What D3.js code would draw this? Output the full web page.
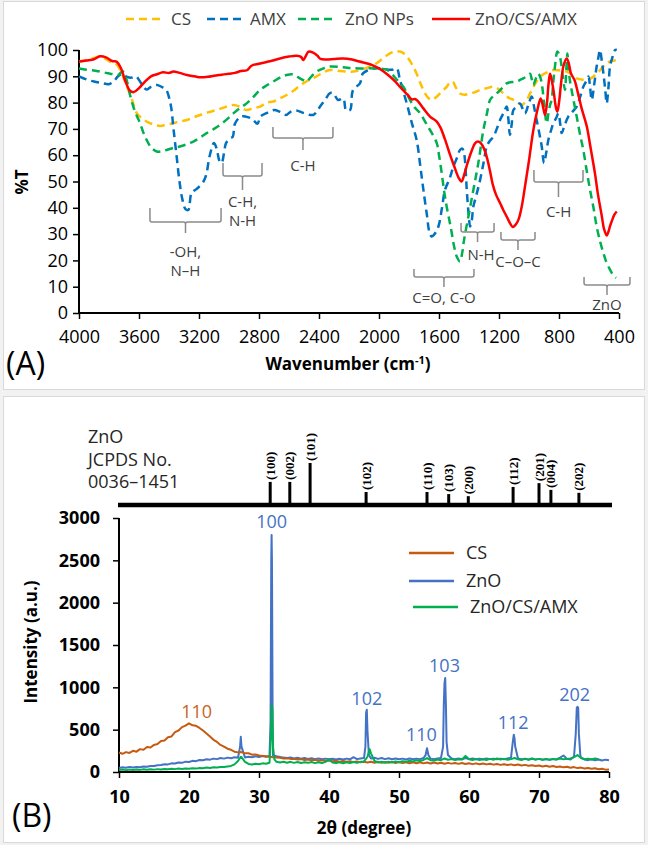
<!DOCTYPE html>
<html><head><meta charset="utf-8">
<script src="https://cdn.jsdelivr.net/npm/d3@7"></script>
<style>body{margin:0;background:#f2f2f2}svg{display:block}</style>
</head><body><svg id="c" width="648" height="845"></svg>
<script>
// ---------------- Panel A: FTIR ----------------
const ftirTicksX = [4000,3600,3200,2800,2400,2000,1600,1200,800,400];
const ftirTicksY = [0,10,20,30,40,50,60,70,80,90,100];
const ftirSeriesNames = ["CS","AMX","ZnO NPs","ZnO/CS/AMX"];
const ftirCS = [[4000,95.6],[3950,96.2],[3900,97],[3860,97.5],[3820,96.5],[3790,95.5],[3760,95],[3738,93.7],[3700,89],[3671,84.8],[3640,80],[3615,76],[3580,74],[3549,72.8],[3500,71.6],[3460,71.1],[3420,71.5],[3371,72.2],[3330,72.8],[3282,73.4],[3240,74.3],[3193,75.3],[3140,76.3],[3082,77.2],[3030,78.2],[2971,79.1],[2930,78.5],[2900,77.5],[2882,77.2],[2840,77.8],[2793,78.5],[2747,80],[2705,80.4],[2660,81.6],[2616,82.9],[2570,84.5],[2527,86.5],[2470,88.5],[2416,90],[2370,91.5],[2327,92.4],[2260,92],[2200,91.8],[2173,91.8],[2127,92.4],[2070,93.5],[2015,95],[1970,97],[1927,98.7],[1890,99.5],[1860,99.4],[1830,98.5],[1804,96.8],[1775,94],[1749,91],[1725,87.5],[1704,84.8],[1675,82],[1649,81],[1620,82],[1593,83.5],[1570,84.8],[1549,86],[1530,87.5],[1509,88],[1490,86],[1460,83.5],[1430,83],[1393,83.5],[1360,84],[1326,84.8],[1280,85.5],[1237,86],[1200,85],[1171,83.5],[1140,82],[1104,81],[1075,80],[1049,79.1],[1020,80.5],[993,83.5],[960,87],[926,89.9],[880,91.5],[838,92.4],[790,92.2],[749,91.8],[710,90.5],[682,89.2],[650,88.8],[615,88.6],[580,89.5],[549,91],[515,93],[482,95],[450,95.8],[415,96.2]];
const ftirAMX = [[4000,90],[3950,88.8],[3900,88],[3850,87.5],[3800,87],[3770,88],[3740,90],[3710,91],[3680,89.8],[3650,89.5],[3620,90],[3600,88.6],[3570,86],[3550,85],[3520,86],[3480,86.7],[3450,86],[3420,85],[3400,82],[3385,78],[3370,70],[3350,60],[3330,50],[3310,43],[3290,39.5],[3271,39.2],[3250,45.6],[3220,47],[3200,48],[3170,50],[3150,53],[3130,59.5],[3100,64.6],[3080,62],[3065,58],[3050,57],[3030,62],[3020,64.6],[2990,66.5],[2975,67],[2960,72],[2920,74.7],[2870,74.4],[2840,73.4],[2810,72],[2790,74.7],[2750,76],[2700,77.2],[2660,76.5],[2620,75.3],[2590,76.5],[2553,77],[2500,76],[2440,75.3],[2410,77],[2393,78.5],[2360,81],[2327,83.6],[2304,83.5],[2273,81],[2238,81.6],[2220,77.2],[2193,77.2],[2173,84.8],[2127,87.3],[2107,91.1],[2037,93],[2000,93],[1913,92.5],[1882,93],[1860,88.6],[1815,79.7],[1780,72],[1749,65.8],[1725,56],[1704,46.8],[1680,37],[1665,31],[1649,29.1],[1630,30],[1604,32.9],[1580,40],[1560,46.8],[1530,51],[1504,55.7],[1480,59],[1460,62],[1445,62.5],[1433,60.8],[1420,52],[1415,46.8],[1400,36],[1393,32.9],[1382,35],[1371,40.5],[1350,45],[1326,50.6],[1300,58],[1282,63.3],[1260,65.5],[1237,67],[1215,70],[1193,73.4],[1170,76],[1149,78.5],[1138,74],[1127,67.7],[1115,72],[1104,77.2],[1080,78.5],[1060,79.7],[1045,78],[1027,75.9],[1005,79],[982,82.3],[965,78],[949,73.4],[930,68],[915,63.3],[900,57],[885,61],[871,65.8],[850,70],[838,72.2],[820,74],[804,75.9],[792,72],[782,68.4],[765,71],[738,74.7],[710,76.5],[682,78.5],[660,82],[638,86],[620,88],[604,89.9],[593,86],[582,81],[565,87],[549,93.7],[538,97],[527,100],[515,96],[504,91.1],[492,85],[482,79.7],[470,86],[460,93.7],[445,97],[426,100],[415,100]];
const ftirZnO = [[4000,93],[3950,92.5],[3900,92.2],[3860,91.8],[3820,91.3],[3793,91],[3760,90.6],[3738,90.5],[3720,91.5],[3705,91.8],[3690,90],[3682,88.6],[3660,83],[3638,78.5],[3615,75],[3593,72.2],[3570,68.5],[3549,65.8],[3520,63],[3482,61.4],[3450,61.5],[3415,62],[3370,62.8],[3327,63.3],[3280,64.2],[3238,65.2],[3190,66.8],[3149,68.4],[3100,70],[3060,71.5],[3010,73.8],[2971,75.9],[2930,77.8],[2882,79.7],[2840,82],[2793,84.8],[2750,86.5],[2705,88],[2660,89.5],[2616,90.5],[2570,90.7],[2527,89.2],[2500,88.4],[2482,88],[2450,90],[2416,91.8],[2370,93],[2327,93.7],[2250,93.5],[2200,93.2],[2127,93],[2037,93],[1949,92.5],[1900,90],[1870,88],[1838,86],[1793,81],[1760,78],[1727,76],[1690,72.5],[1660,69.6],[1615,64.6],[1600,60],[1582,53.2],[1565,46],[1549,40.5],[1530,35],[1515,30.4],[1500,25.5],[1482,21.5],[1460,19.6],[1445,23],[1433,27.8],[1404,36.7],[1371,46.8],[1338,57],[1304,69.6],[1280,76],[1260,81],[1237,82.5],[1215,83.5],[1180,85.5],[1149,87.3],[1115,87.8],[1082,88],[1060,88.6],[1038,89.2],[1015,90],[993,91],[982,89],[971,86.7],[955,89],[938,91],[927,90],[915,87.3],[900,80],[882,72.2],[870,76],[860,79],[849,81],[838,88],[827,93.7],[811,99.4],[800,98.5],[789,96.2],[775,90],[760,84.8],[752,92],[744,98.7],[735,92],[726,88],[716,84.8],[700,80],[682,74.7],[660,68],[638,62],[615,54],[593,46.8],[570,40],[549,32.9],[525,27],[504,22.8],[482,19],[460,16.5],[440,14.5],[420,13.3]];
const ftirComposite = [[4000,95.6],[3950,96],[3900,96.5],[3860,97.6],[3820,97.2],[3780,95.8],[3750,95.6],[3720,93],[3690,88],[3660,84.5],[3635,84],[3600,85.5],[3560,88],[3520,90],[3480,90.8],[3440,91.5],[3400,91.3],[3370,91.8],[3330,91.3],[3280,90.5],[3230,90],[3190,89.6],[3140,89.8],[3100,90.2],[3050,90.6],[3000,91],[2960,91.3],[2920,92],[2880,92.3],[2850,94],[2800,94.8],[2720,95.8],[2660,96.8],[2600,97.5],[2550,97.8],[2520,97.4],[2505,96.2],[2490,97.5],[2470,99.4],[2440,99],[2410,97.8],[2390,96.6],[2350,96.4],[2300,96.6],[2240,96.8],[2180,96.4],[2130,95.6],[2060,94.6],[2000,93],[1950,91],[1900,88.5],[1860,86],[1810,83],[1780,81.2],[1760,81.4],[1740,80.5],[1704,77.8],[1660,74.7],[1615,72.8],[1590,70.5],[1560,66],[1530,60.8],[1500,56],[1470,51.5],[1450,50],[1430,53],[1410,57],[1380,62],[1360,64.5],[1340,65.2],[1320,64.5],[1300,62.5],[1280,59],[1260,54],[1240,48.5],[1220,45],[1193,41.8],[1170,39],[1149,36.7],[1125,34],[1109,32.7],[1090,33.5],[1070,35.5],[1050,40],[1027,48],[1000,58],[971,69.6],[945,77],[922,81.6],[905,78],[893,75.3],[880,80],[870,87],[860,91],[850,89],[835,84],[820,78],[811,76.6],[800,80],[785,88],[770,94],[749,96.8],[735,95],[720,91],[700,89],[693,88],[675,84],[650,78],[615,71],[590,63],[560,53],[540,45],[515,37],[500,32],[482,29.5],[470,31],[460,33],[449,34.8],[430,37.5],[415,38.6]];
// band annotations (wavenumber range, %T levels, label text)
const bandLabels = [
  {w1:3527,w2:3053,top:39.9,bar:34.6,stem:30.4,lines:["-OH,","N\u2013H"],ty:23.2,tw:3290},
  {w1:3040,w2:2780,top:57,bar:52.1,stem:46.8,lines:["C-H,","N-H"],ty:42.2,tw:2910},
  {w1:2707,w2:2307,top:70.7,bar:66.5,stem:62,lines:["C-H"],ty:55.9,tw:2507},
  {w1:1767,w2:1367,top:16.7,bar:13.7,stem:9.9,lines:["C=O, C-O"],ty:5.7,tw:1567},
  {w1:1453,w2:1233,top:34.2,bar:30.8,stem:27,lines:["N-H"],ty:22,tw:1320},
  {w1:1187,w2:960,top:30.8,bar:27.8,stem:24,lines:["C\u2013O\u2013C"],ty:19.4,tw:1073},
  {w1:967,w2:640,top:54.4,bar:49.8,stem:44.1,lines:["C-H"],ty:38.4,tw:803},
  {w1:633,w2:327,top:13.7,bar:10.6,stem:6.8,lines:["ZnO"],ty:3,tw:480}
];

// ---------------- Panel B: XRD ----------------
const xrdTicksX = [10,20,30,40,50,60,70,80];
const xrdTicksY = [0,500,1000,1500,2000,2500,3000];
const xrdGridStep = 0.5;
const xrdCS = [230,215,235,225,250,240,270,262,295,290,
320,330,365,372,410,420,470,490,530,548,
575,552,545,520,490,455,420,380,355,320,
300,275,262,240,232,235,220,222,205,208,
195,190,185,180,175,172,168,160,162,155,
155,148,152,142,148,138,145,132,140,130,
135,126,132,122,130,120,128,117,125,114,
122,112,120,110,121,108,118,110,120,106,
117,105,116,104,114,103,115,102,112,100,
113,101,110,98,108,99,107,96,106,95,
104,93,102,91,100,90,98,87,95,84,
92,82,90,79,88,76,84,73,80,70,
76,66,74,62,70,60,66,55,62,50,
58,46,52,42,48,38,44,33,38,28,
30];
const xrdZnO = [48,55,50,58,53,60,56,64,62,72,
70,80,82,92,90,102,100,112,108,122,
118,132,128,142,138,150,146,158,152,165,
158,170,162,174,168,300,172,180,174,185,
178,188,180,190,195,185,178,170,165,172,
160,168,158,165,155,163,152,160,150,158,
150,157,148,156,148,158,150,175,152,160,
165,480,160,168,155,165,152,162,150,160,
150,158,148,160,150,158,152,165,280,158,
150,160,165,1050,200,160,152,160,150,165,
152,160,150,158,150,160,152,158,150,158,
150,160,170,400,160,152,158,148,156,146,
155,145,153,145,152,148,170,195,155,148,
180,770,170,148,140,150,138,148,136,146,
140];
const xrdZnOPeaks = [[27.3,300],[27.4,415],[31.65,600],[31.75,2500],[31.8,2800],[31.85,2500],[31.95,600],[45.2,300],[45.3,700],[45.4,735],[45.7,200],[53.8,200],[54.2,200],[56.3,300],[56.4,800],[56.6,1110],[56.7,800],[56.8,350],[66.25,350],[66.4,440],[66.6,300],[75.25,450],[75.4,760],[75.6,760],[75.7,450],[75.9,200]];
const xrdComposite = [25,30,22,28,24,30,25,32,26,33,
28,34,30,36,32,38,34,40,36,42,
38,45,40,48,44,52,48,56,52,60,
58,66,72,90,130,175,120,95,88,98,
92,102,98,110,300,120,112,122,110,120,
108,118,106,116,108,118,105,115,106,120,
150,112,105,115,104,116,106,118,108,120,
125,180,220,130,112,122,110,120,112,125,
115,128,120,132,125,138,130,142,165,140,
135,148,140,160,145,152,140,150,148,190,
150,142,152,140,150,142,155,145,160,148,
155,145,152,165,150,142,155,145,160,148,
155,145,152,145,155,148,158,150,155,160,
175,200,165,150,158,148,160,150];
const xrdCompositePeaks = [[27.4,180],[31.7,400],[31.8,780],[31.9,760],[32.2,150],[45.8,270]];
const xrdPeakLabels = [
  {t:"100",x:31.8,y:2960,s:"ZnO"},{t:"110",x:21.1,y:710,s:"CS"},{t:"102",x:45.4,y:870,s:"ZnO"},
  {t:"110",x:53.2,y:440,s:"ZnO"},{t:"103",x:56.5,y:1250,s:"ZnO"},{t:"112",x:66.3,y:580,s:"ZnO"},{t:"202",x:75.1,y:910,s:"ZnO"}];
const jcpdsPlanes = ["(100)","(002)","(101)","(102)","(110)","(103)","(200)","(112)","(201)","(004)","(202)"];
const jcpdsPos = [31.6,34.4,37.3,45.3,54.0,57.1,59.9,66.3,70.0,71.7,75.7];
const jcpdsRel = [55,55,100,31,31,26,21,43,52,36,29];
const jcpdsText = ["ZnO","JCPDS No.","0036\u20131451"];

// ---------------- drawing ----------------
const F = "'Open Sans', 'Noto Sans', sans-serif";
const svg = d3.select('#c');
svg.append('rect').attr('x',3.5).attr('y',1.5).attr('width',641).attr('height',388).attr('fill','#fff').attr('stroke','#d9d9d9');
svg.append('rect').attr('x',3.5).attr('y',396.5).attr('width',641).attr('height',446).attr('fill','#fff').attr('stroke','#d9d9d9');

function styleAxis(g, size, weight){
  g.select('.domain').remove();
  g.selectAll('.tick line').attr('stroke','#000').attr('stroke-width',1.5);
  g.selectAll('.tick text').attr('font-family',F).attr('font-size',size).attr('font-weight',weight).attr('fill','#000');
}

// Panel A
const xA = d3.scaleLinear().domain([4000,400]).range([79,619]);
const yA = d3.scaleLinear().domain([0,100]).range([313,50]);
const gA = svg.append('g');
const axA = gA.append('g').attr('transform','translate(0,313)').call(d3.axisBottom(xA).tickValues(ftirTicksX).tickSize(6).tickPadding(11).tickFormat(d3.format('d')));
styleAxis(axA,18,'normal');
const ayA = gA.append('g').attr('transform','translate(79,0)').call(d3.axisLeft(yA).tickValues(ftirTicksY).tickSize(6).tickPadding(5));
styleAxis(ayA,18,'normal');
gA.append('line').attr('x1',xA(4000)).attr('x2',xA(400)).attr('y1',yA(0)).attr('y2',yA(0)).attr('stroke','#000').attr('stroke-width',2);
gA.append('line').attr('x1',xA(4000)).attr('x2',xA(4000)).attr('y1',yA(0)).attr('y2',yA(100)).attr('stroke','#000').attr('stroke-width',2);

// annotations
const annColor = '#8a8a8a';
bandLabels.forEach(b=>{
  const x1=xA(b.w1), x2=xA(b.w2), xm=(x1+x2)/2, yt=yA(b.top), yb=yA(b.bar), ys=yA(b.stem);
  gA.append('path').attr('d',`M${x1},${yt}L${x1},${yb-2}Q${x1},${yb} ${x1+2},${yb}L${xm-2},${yb}Q${xm},${yb} ${xm},${yb+2}L${xm},${ys}M${xm},${yb+2}Q${xm},${yb} ${xm+2},${yb}L${x2-2},${yb}Q${x2},${yb} ${x2},${yb-2}L${x2},${yt}`)
    .attr('fill','none').attr('stroke',annColor).attr('stroke-width',1.5);
  b.lines.forEach((t,i)=>{
    gA.append('text').attr('x',xA(b.tw)).attr('y',yA(b.ty)+i*19).attr('dy','0.35em').attr('text-anchor','middle')
      .attr('font-family',F).attr('font-size',15).attr('fill','#404040').text(t);
  });
});

const lineA = d3.line().x(d=>xA(d[0])).y(d=>yA(d[1])).curve(d3.curveCatmullRom.alpha(0.5));
const ftirStyles = [
  {data:ftirCS,color:'#FFC000',dash:'8,5',w:2.5},
  {data:ftirAMX,color:'#0070C0',dash:'8,5',w:2.5},
  {data:ftirZnO,color:'#00B050',dash:'8,5',w:2.5},
  {data:ftirComposite,color:'#FF0000',dash:null,w:2.5}
];
ftirStyles.forEach(s=>{
  gA.append('path').datum(s.data).attr('d',lineA).attr('fill','none').attr('stroke',s.color)
    .attr('stroke-width',s.w).attr('stroke-dasharray',s.dash).attr('stroke-linejoin','round');
});
// legend A
const legA = [{x:126,tx:171},{x:207,tx:250},{x:298,tx:345},{x:432,tx:475}];
ftirSeriesNames.forEach((n,i)=>{
  const s=ftirStyles[i];
  gA.append('line').attr('x1',legA[i].x).attr('x2',legA[i].x+38).attr('y1',19).attr('y2',19).attr('stroke',s.color)
    .attr('stroke-width',2.5).attr('stroke-dasharray',s.dash);
  gA.append('text').attr('x',legA[i].tx).attr('y',19).attr('dy','0.35em').attr('font-family',F).attr('font-size',17).attr('fill','#404040').text(n);
});
gA.append('text').attr('transform','translate(22,182) rotate(-90)').attr('text-anchor','middle').attr('dy','0.35em')
  .attr('font-family',F).attr('font-size',17).attr('font-weight','bold').text('%T');
const tA = gA.append('text').attr('x',348).attr('y',370).attr('text-anchor','middle').attr('font-family',F).attr('font-size',17).attr('font-weight','bold');
tA.append('tspan').text('Wavenumber (cm');
tA.append('tspan').attr('dy',-6).attr('font-size',11).text('-1');
tA.append('tspan').attr('dy',6).text(')');
gA.append('text').attr('x',6).attr('y',375).attr('font-family',F).attr('font-size',32).text('(A)');

// Panel B
const xB = d3.scaleLinear().domain([10,80]).range([119,609]);
const yB = d3.scaleLinear().domain([0,3000]).range([772,518]);
const gB = svg.append('g');
const axB = gB.append('g').attr('transform','translate(0,772)').call(d3.axisBottom(xB).tickValues(xrdTicksX).tickSize(6).tickPadding(12).tickFormat(d3.format('d')));
styleAxis(axB,18,'bold');
const ayB = gB.append('g').attr('transform','translate(119,0)').call(d3.axisLeft(yB).tickValues(xrdTicksY).tickSize(6).tickPadding(13).tickFormat(d3.format('d')));
styleAxis(ayB,18,'bold');
gB.append('line').attr('x1',xB(10)).attr('x2',xB(80)).attr('y1',yB(0)).attr('y2',yB(0)).attr('stroke','#000').attr('stroke-width',2);
gB.append('line').attr('x1',xB(10)).attr('x2',xB(10)).attr('y1',yB(0)).attr('y2',yB(3000)).attr('stroke','#000').attr('stroke-width',2);

function build(vals, peaks){
  const pts = vals.map((v,i)=>[10+i*xrdGridStep, v]);
  return pts.concat(peaks||[]).sort((a,b)=>a[0]-b[0]);
}
const lineB = d3.line().x(d=>xB(d[0])).y(d=>yB(d[1]));
const xrdStyles = {
  ZnO:{data:build(xrdZnO,xrdZnOPeaks),color:'#4472C4'},
  CS:{data:build(xrdCS),color:'#C55A11'},
  Comp:{data:build(xrdComposite,xrdCompositePeaks),color:'#00B050'}
};
['ZnO','CS','Comp'].forEach(k=>{
  gB.append('path').datum(xrdStyles[k].data).attr('d',lineB).attr('fill','none').attr('stroke',xrdStyles[k].color)
    .attr('stroke-width',2).attr('stroke-linejoin','round');
});
xrdPeakLabels.forEach(p=>{
  gB.append('text').attr('x',xB(p.x)).attr('y',yB(p.y)).attr('dy','0.35em').attr('text-anchor','middle')
    .attr('font-family',F).attr('font-size',18).attr('fill',p.s==='CS'?'#C8641E':'#4472C4').text(p.t);
});
// legend B
const legB = [{n:'CS',k:'CS',y:553,x:409},{n:'ZnO',k:'ZnO',y:581,x:409},{n:'ZnO/CS/AMX',k:'Comp',y:607,x:413}];
legB.forEach(l=>{
  gB.append('line').attr('x1',l.x).attr('x2',l.x+45).attr('y1',l.y).attr('y2',l.y).attr('stroke',xrdStyles[l.k].color).attr('stroke-width',2.5);
  gB.append('text').attr('x',l.x+57).attr('y',l.y).attr('dy','0.35em').attr('font-family',F).attr('font-size',18).attr('fill','#262626').text(l.n);
});
gB.append('text').attr('transform','translate(31,642) rotate(-90)').attr('text-anchor','middle').attr('dy','0.35em')
  .attr('font-family',F).attr('font-size',17).attr('font-weight','bold').text('Intensity (a.u.)');
gB.append('text').attr('x',364).attr('y',834).attr('text-anchor','middle').attr('font-family',F).attr('font-size',17).attr('font-weight','bold').text('2\u03b8 (degree)');
gB.append('text').attr('x',12).attr('y',827).attr('font-family',F).attr('font-size',32).text('(B)');

// JCPDS stick pattern
const stickBase = 505;
const hS = d3.scaleLinear().domain([0,100]).range([0,42]);
gB.append('line').attr('x1',xB(10)-1).attr('x2',xB(80)+3).attr('y1',stickBase).attr('y2',stickBase).attr('stroke','#000').attr('stroke-width',4.5);
jcpdsPos.forEach((p,i)=>{
  const x=xB(p), top=stickBase-hS(jcpdsRel[i]);
  gB.append('line').attr('x1',x).attr('x2',x).attr('y1',stickBase).attr('y2',top).attr('stroke','#000').attr('stroke-width',3);
  gB.append('text').attr('transform',`translate(${x},${top-2}) rotate(-90)`).attr('dy','0.35em')
    .attr('font-family',"'Liberation Serif', serif").attr('font-weight','bold').attr('font-size',13).text(jcpdsPlanes[i]);
});
jcpdsText.forEach((t,i)=>{
  gB.append('text').attr('x',88).attr('y',437+i*22.5).attr('dy','0.35em').attr('font-family',F).attr('font-size',18).attr('fill','#262626').text(t);
});
</script></body></html>
